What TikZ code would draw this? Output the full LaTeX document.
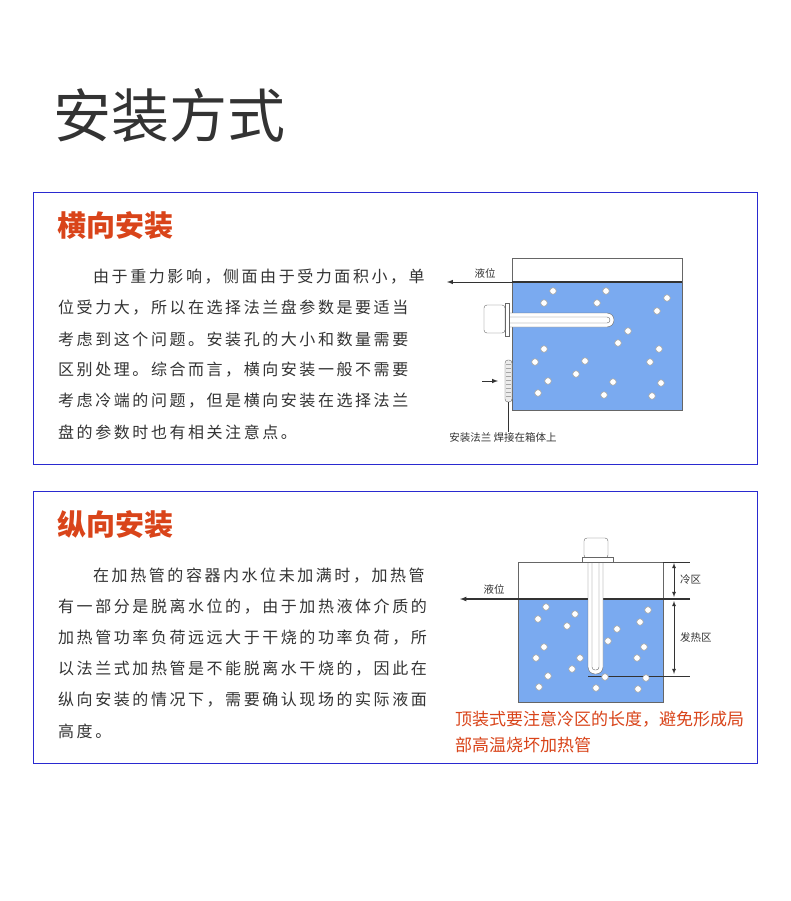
\documentclass[tikz,border=0pt]{standalone}
\usepackage{fontspec}
\setmainfont{Noto Sans CJK SC}
\newfontfamily\bodyfont[LetterSpace=16]{Noto Sans CJK SC}
\usetikzlibrary{calc}
\definecolor{frameblue}{HTML}{2A2AD0}
\definecolor{headred}{HTML}{D9441A}
\definecolor{water}{HTML}{7AAAF0}
\definecolor{ink}{HTML}{333333}
\tikzset{
  bodyline/.style={anchor=west, inner sep=0pt, font=\bodyfont\fontsize{16}{16}\selectfont, text=ink},
  heading/.style={anchor=west, inner sep=0pt, font=\bfseries\fontsize{29}{29}\selectfont, text=headred},
  small/.style={inner sep=0pt, font=\fontsize{10.5}{10.5}\selectfont, text=ink},
  bubble/.style={fill=white, draw=gray!70, line width=0.6pt},
  tank/.style={draw=gray!80!black, line width=1pt},
  part/.style={draw=gray!80!black, fill=white},
}
\begin{document}
\begin{tikzpicture}[x=1pt, y=-1pt]
    \useasboundingbox[fill=white] (0,0) rectangle (790,901);
    % Title
    \node[anchor=west, inner sep=0pt, font=\fontsize{58}{58}\selectfont, text=ink] (title) at (53,115) {安装方式};

    % Horizontal mounting panel
    \draw[frameblue, line width=0.8pt] (33,192) rectangle (757,464);
    \node[heading] (head1) at (57,226) {横向安装};
    \foreach \txt [count=\i] in {由于重力影响，侧面由于受力面积小，单, 位受力大，所以在选择法兰盘参数是要适当, 考虑到这个问题。安装孔的大小和数量需要, 区别处理。综合而言，横向安装一般不需要, 考虑冷端的问题，但是横向安装在选择法兰, 盘的参数时也有相关注意点。} {
        \ifnum\i=1
            \node[bodyline] (para1-\i) at (93,277) {\txt};
        \else
            \node[bodyline] (para1-\i) at (58,{277+31*(\i-1)}) {\txt};
        \fi
    }
    % tank 1
    \fill[water] (512,282) rectangle (682,410);
    \draw[tank] (512,258) rectangle (682,410);
    \draw[ink, line width=1.2pt] (512,282) -- (682,282);
    \coordinate (lvl1) at (512,282);
    \coordinate (lvl1end) at (447,282);
    \draw[ink, line width=1pt, -latex] (lvl1) -- (lvl1end);
    \node[small] (lbl1) at (485,273) {液位};
    % heater 1
    \draw[part, rounded corners=7pt] (500,313) rectangle (614,327);
    \draw[gray!80!black, rounded corners=3pt] (500,317) rectangle (610,323);
    \draw[part, rounded corners=3pt] (484,305) rectangle (505,333);
    \draw[part] (505,303) rectangle (509,336);
    % welded flange
    \draw[gray!80!black, fill=gray!15, rounded corners=3pt] (505,360) rectangle (512,402);
    \foreach \y in {364,368,...,398} \draw[gray!70] (506,\y) -- (511,\y);
    \coordinate (pin) at (482,381);
    \coordinate (pout) at (498,381);
    \draw[ink, line width=1pt, -latex] (pin) -- (pout);
    \coordinate (fl) at (508,402);
    \node[small, anchor=north] (lbl2) at (503,432) {安装法兰 焊接在箱体上};
    \draw[ink, line width=1pt] (fl) -- (lbl2.north -| fl);
    \foreach \x/\y in {553/291, 606/291, 667/298, 544/303, 597/303, 657/311, 628/331, 618/343, 544/349, 659/349, 535/362, 585/361, 650/362, 576/374, 548/381, 613/382, 661/383, 538/393, 604/395, 652/396}
        \draw[bubble] (\x,\y) circle (3.3);

    % Vertical mounting panel
    \draw[frameblue, line width=0.8pt] (33,491) rectangle (757,763);
    \node[heading] (head2) at (57,525) {纵向安装};
    \foreach \txt [count=\i] in {在加热管的容器内水位未加满时，加热管, 有一部分是脱离水位的，由于加热液体介质的, 加热管功率负荷远远大于干烧的功率负荷，所, 以法兰式加热管是不能脱离水干烧的，因此在, 纵向安装的情况下，需要确认现场的实际液面, 高度。} {
        \ifnum\i=1
            \node[bodyline] (para2-\i) at (93,576) {\txt};
        \else
            \node[bodyline] (para2-\i) at (58,{576+31*(\i-1)}) {\txt};
        \fi
    }
    \node[anchor=west, inner sep=0pt, font=\fontsize{17}{17}\selectfont, text=headred] (warn1) at (455,719) {顶装式要注意冷区的长度，避免形成局};
    \node[anchor=west, inner sep=0pt, font=\fontsize{17}{17}\selectfont, text=headred] (warn2) at (455,745) {部高温烧坏加热管};
    % tank 2
    \fill[water] (518,599) rectangle (663,702);
    \draw[tank] (518,562) rectangle (663,702);
    \draw[ink, line width=1pt] (663,562) -- (690,562);
    \coordinate (lvl2) at (690,599);
    \coordinate (lvl2end) at (460,599);
    \draw[ink, line width=1.2pt, -latex] (lvl2) -- (lvl2end);
    \node[small] (lbl3) at (494,589) {液位};
    \draw[ink, line width=1pt] (588,676) -- (690,676);
    \draw[ink, line width=0.8pt, latex-latex] (674,563) -- (674,597);
    \draw[ink, line width=0.8pt, latex-latex] (674,601) -- (674,674);
    \node[small, anchor=west] (lbl4) at (680,580) {冷区};
    \node[small, anchor=west] (lbl5) at (680,638) {发热区};
    % heater 2
    \draw[part, rounded corners=7pt] (588,555) rectangle (603,674);
    \draw[gray!80!black, rounded corners=3pt] (592,555) rectangle (599,670);
    \draw[part, rounded corners=3pt] (584,538) rectangle (608,558);
    \draw[part] (582,557) rectangle (613,562);
    \foreach \x/\y in {546/607, 575/614, 538/619, 567/626, 648/610, 640/622, 617/629, 608/641, 544/647, 644/647, 536/658, 580/658, 637/658, 572/669, 548/676, 605/677, 646/678, 539/687, 596/688, 638/689}
        \draw[bubble] (\x,\y) circle (3.3);
\end{tikzpicture}
\end{document}
